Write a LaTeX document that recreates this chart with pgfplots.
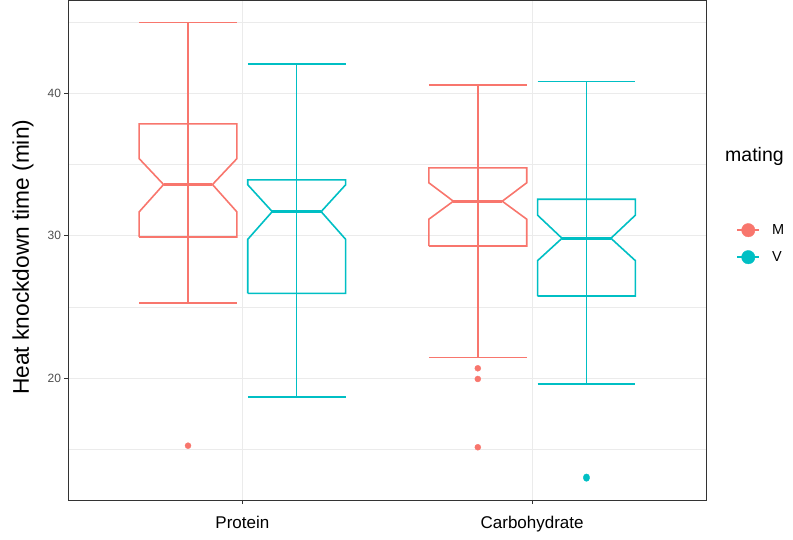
\documentclass[border=0pt]{standalone}
\usepackage{pgfplots}
\pgfplotsset{compat=1.18}
\usepackage{fontspec}
\setmainfont{Liberation Sans}
\definecolor{cM}{HTML}{F8766D}
\definecolor{cV}{HTML}{00BFC4}
\definecolor{grid92}{HTML}{EBEBEB}
\definecolor{grey30}{HTML}{4D4D4D}
\definecolor{grey20}{HTML}{333333}
\begin{document}
\begin{tikzpicture}
\useasboundingbox (0,0) rectangle (793pt,539pt);
\begin{axis}[
  at={(68.5pt,39pt)}, anchor=south west,
  scale only axis, width=637.5pt, height=499.5pt,
  xmin=0.4, xmax=2.6, ymin=11.46, ymax=46.5,
  xtick={1,2}, xticklabels={Protein,Carbohydrate},
  ytick={20,30,40}, minor ytick={15,25,35,45},
  grid=both,
  major grid style={grid92, line width=1pt},
  minor grid style={grid92, line width=0.5pt},
  axis line style={grey20, line width=1pt},
  tick align=outside, major tick length=4pt, minor tick length=0pt,
  tick style={grey20, line width=0.8pt},
  xtick pos=bottom, ytick pos=left,
  /pgf/number format/assume math mode=true,
  yticklabel style={font=\fontsize{12}{14}\selectfont, text=grey30, xshift=0pt},
  xticklabel style={font=\fontsize{17}{20}\selectfont, text=black, yshift=-9pt},
  ylabel={Heat knockdown time (min)},
  ylabel style={at={(axis description cs:-0.0714,0.486)}, anchor=center, rotate=0, font=\fontsize{22.7}{26}\selectfont},
  clip=false,
  legend style={draw=none, fill=none, at={(axis description cs:1.0475,0.5676)}, anchor=north west,
    font=\fontsize{14.5}{17}\selectfont, inner xsep=0pt, inner ysep=0pt, row sep=0pt,
    nodes={inner xsep=0pt, inner ysep=0pt, minimum height=27pt},
    /tikz/every odd column/.style={column sep=12pt}},
  legend cell align=left,
  Ml/.style={color=cM, line width=1.6pt, line join=miter},
  Vl/.style={color=cV, line width=1.6pt, line join=miter},
]
% ---------- Protein M (center 0.8125)
\addplot[Ml, forget plot] coordinates {(0.8125,25.28) (0.8125,44.95)};
\addplot[Ml, forget plot] coordinates {(0.64375,44.95) (0.98125,44.95)};
\addplot[Ml, forget plot] coordinates {(0.64375,25.28) (0.98125,25.28)};
\addplot[Ml, forget plot] coordinates {(0.64375,29.91) (0.64375,31.67) (0.728125,33.59) (0.64375,35.41) (0.64375,37.85) (0.98125,37.85) (0.98125,35.41) (0.896875,33.59) (0.98125,31.67) (0.98125,29.91) (0.64375,29.91)};
\addplot[Ml, line width=3pt, forget plot] coordinates {(0.728125,33.59) (0.896875,33.59)};
\addplot[only marks, mark=*, mark size=3pt, color=cM, forget plot] coordinates {(0.8125,15.27)};
% ---------- Protein V (center 1.1875)
\addplot[Vl, forget plot] coordinates {(1.1875,18.67) (1.1875,42.04)};
\addplot[Vl, forget plot] coordinates {(1.01875,42.04) (1.35625,42.04)};
\addplot[Vl, forget plot] coordinates {(1.01875,18.67) (1.35625,18.67)};
\addplot[Vl, forget plot] coordinates {(1.01875,25.96) (1.01875,29.75) (1.103125,31.69) (1.01875,33.57) (1.01875,33.92) (1.35625,33.92) (1.35625,33.57) (1.271875,31.69) (1.35625,29.75) (1.35625,25.96) (1.01875,25.96)};
\addplot[Vl, line width=3pt, forget plot] coordinates {(1.103125,31.69) (1.271875,31.69)};
% ---------- Carbohydrate M (center 1.8125)
\addplot[Ml, forget plot] coordinates {(1.8125,21.45) (1.8125,40.58)};
\addplot[Ml, forget plot] coordinates {(1.64375,40.58) (1.98125,40.58)};
\addplot[Ml, forget plot] coordinates {(1.64375,21.45) (1.98125,21.45)};
\addplot[Ml, forget plot] coordinates {(1.64375,29.28) (1.64375,31.16) (1.728125,32.42) (1.64375,33.71) (1.64375,34.76) (1.98125,34.76) (1.98125,33.71) (1.896875,32.42) (1.98125,31.16) (1.98125,29.28) (1.64375,29.28)};
\addplot[Ml, line width=3pt, forget plot] coordinates {(1.728125,32.42) (1.896875,32.42)};
\addplot[only marks, mark=*, mark size=3pt, color=cM, forget plot] coordinates {(1.8125,20.70) (1.8125,19.95) (1.8125,15.16)};
% ---------- Carbohydrate V (center 2.1875)
\addplot[Vl, forget plot] coordinates {(2.1875,19.60) (2.1875,40.82)};
\addplot[Vl, forget plot] coordinates {(2.01875,40.82) (2.35625,40.82)};
\addplot[Vl, forget plot] coordinates {(2.01875,19.60) (2.35625,19.60)};
\addplot[Vl, forget plot] coordinates {(2.01875,25.77) (2.01875,28.25) (2.103125,29.82) (2.01875,31.44) (2.01875,32.56) (2.35625,32.56) (2.35625,31.44) (2.271875,29.82) (2.35625,28.25) (2.35625,25.77) (2.01875,25.77)};
\addplot[Vl, line width=3pt, forget plot] coordinates {(2.103125,29.82) (2.271875,29.82)};
\addplot[only marks, mark=*, mark size=3pt, color=cV, forget plot] coordinates {(2.1875,12.98) (2.1875,13.08)};
% ---------- legend
\addlegendimage{legend image code/.code={\draw[cM, line width=1.6pt] (0pt,0pt) -- (22pt,0pt); \fill[cM] (11pt,0pt) circle (6.7pt);}}
\addlegendentry{M}
\addlegendimage{legend image code/.code={\draw[cV, line width=1.6pt] (0pt,0pt) -- (22pt,0pt); \fill[cV] (11pt,0pt) circle (6.7pt);}}
\addlegendentry{V}
\node[anchor=base west, inner sep=0pt, font=\fontsize{19.5}{22}\selectfont] at (axis description cs:1.0298,0.6775) {mating};
\end{axis}
\end{tikzpicture}
\end{document}
